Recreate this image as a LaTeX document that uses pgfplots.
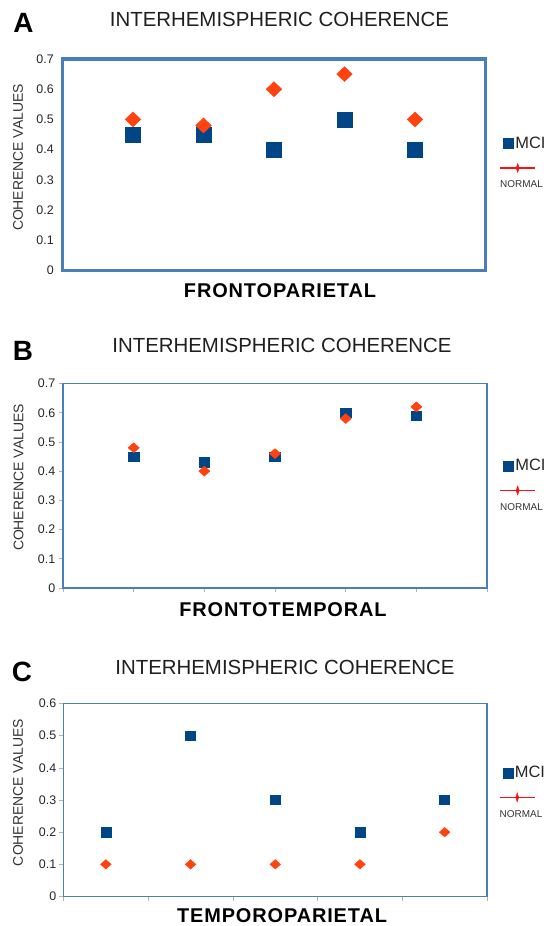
\documentclass[border=0pt]{standalone}
\usepackage{fontspec}
\setmainfont{Liberation Sans}
\usepackage{pgfplots}
\pgfplotsset{compat=1.18}
\definecolor{mciblue}{HTML}{004586}
\definecolor{normorange}{HTML}{FF420E}
\definecolor{boxblue}{HTML}{4A7EBB}
\definecolor{legred}{HTML}{FF1010}

\pgfplotsset{
  panel/.style={
    scale only axis,
    anchor=south west,
    clip=false,
    axis line style={boxblue},
    ymin=0,
    /pgf/number format/assume math mode=true,
    /pgf/number format/fixed,
    /pgf/number format/precision=1,
    yticklabel style={font=\fontsize{12.5}{14}\selectfont, text=black!85, inner sep=0pt, anchor=east},
    xticklabels={},
    xtick pos=bottom, ytick pos=left,
    tick style={gray!60, line width=0.6pt},
    tick align=outside,
    major tick length=4bp,
    legend style={draw=none, fill=none, inner sep=0pt, outer sep=0pt,
      font=\fontsize{16.5}{18}\selectfont, text=black!85,
      at={(axis description cs:1,1)}, anchor=north west,
      row sep=13bp, column sep=2bp, nodes={inner sep=0pt}},
    legend cell align=left,
  },
  mcikey/.style={legend image code/.code={
      \fill[mciblue] (0bp,-5bp) rectangle (10bp,5bp);}},
  normkey/.style={legend image code/.code={
      \path[draw=none, fill=none] (0bp,-5bp) rectangle (10bp,5bp);
      \draw[overlay, legred, line width=1.3bp] (-3bp,0bp) -- (32bp,0bp);
      \fill[overlay, legred] (14.5bp,4.5bp) -- (16bp,0bp) -- (14.5bp,-4.5bp) -- (13bp,0bp) -- cycle;
      \node[overlay, anchor=north west, inner sep=0pt, text=black!80,
        font=\fontsize{10}{12}\selectfont] at (-3bp,-13bp) {NORMAL};}},
}

\begin{document}
\begin{tikzpicture}
\useasboundingbox (0,0) rectangle (544bp,926bp);

% ---------------- Panel A ----------------
\begin{axis}[panel,
  at={(62.5bp,655.5bp)}, width=423bp, height=211.5bp,
  xmin=0, xmax=6, ymax=0.7,
  ytick={0,0.1,0.2,0.3,0.4,0.5,0.6,0.7},
  xtick=\empty, major tick length=0bp,
  axis line style={boxblue, line width=3.3bp},
  yticklabel style={xshift=-8.5bp},
  legend style={xshift=17.5bp, yshift=-78bp},
]
\addplot[only marks, mark=square*, mark size=7.5bp, mciblue, mark options={draw=none, fill=mciblue}, mcikey]
  coordinates {(1,0.45) (2,0.45) (3,0.40) (4,0.50) (5,0.40)};
\addlegendentry{MCI}
\addplot[only marks, mark=diamond*, mark size=7.5bp, normorange, mark options={draw=none, fill=normorange, xscale=1.39}, normkey]
  coordinates {(1,0.50) (2,0.48) (3,0.60) (4,0.65) (5,0.50)};
\addlegendentry{}
\end{axis}

% ---------------- Panel B ----------------
\begin{axis}[panel,
  at={(63bp,338bp)}, width=424bp, height=204.5bp,
  xmin=0, xmax=6, ymax=0.7,
  ytick={0,0.1,0.2,0.3,0.4,0.5,0.6,0.7},
  xtick={0,1,2,3,4,5,6},
  axis line style={boxblue, line width=1.7bp},
  yticklabel style={xshift=-3.5bp},
  legend style={xshift=16bp, yshift=-76bp},
]
\addplot[only marks, mark=square*, mark size=5.3bp, mciblue, mark options={draw=none, fill=mciblue, yscale=0.9}, mcikey]
  coordinates {(1,0.45) (2,0.43) (3,0.45) (4,0.60) (5,0.59)};
\addlegendentry{MCI}
\addplot[only marks, mark=diamond*, mark size=5bp, normorange, mark options={draw=none, fill=normorange, xscale=1.5}, normkey]
  coordinates {(1,0.48) (2,0.40) (3,0.46) (4,0.58) (5,0.62)};
\addlegendentry{}
\end{axis}

% ---------------- Panel C ----------------
\begin{axis}[panel,
  at={(63.5bp,29.5bp)}, width=423.5bp, height=193bp,
  xmin=0.5, xmax=5.5, ymax=0.6,
  ytick={0,0.1,0.2,0.3,0.4,0.5,0.6},
  xtick={0.5,1.5,2.5,3.5,4.5,5.5},
  axis line style={boxblue, line width=1.7bp},
  yticklabel style={xshift=-3bp},
  legend style={xshift=15.5bp, yshift=-63bp},
]
\addplot[only marks, mark=square*, mark size=5bp, mciblue, mark options={draw=none, fill=mciblue, yscale=0.93}, mcikey]
  coordinates {(1,0.2) (2,0.5) (3,0.3) (4,0.2) (5,0.3)};
\addlegendentry{MCI}
\addplot[only marks, mark=diamond*, mark size=4.75bp, normorange, mark options={draw=none, fill=normorange, xscale=1.5}, normkey]
  coordinates {(1,0.1) (2,0.1) (3,0.1) (4,0.1) (5,0.2)};
\addlegendentry{}
\end{axis}

% ---------------- Texts ----------------
\tikzset{ttl/.style={font=\fontsize{20.5}{24}\selectfont, text=black!88, inner sep=0pt},
  let/.style={font=\fontsize{28}{32}\selectfont\bfseries, inner sep=0pt},
  xl/.style={font=\fontsize{20}{24}\selectfont\bfseries\addfontfeatures{LetterSpace=4.5}, inner sep=0pt},
  yl/.style={font=\fontsize{14}{16}\selectfont, text=black!80, inner sep=0pt, rotate=90}}
\node[ttl] at (279.5bp,906.5bp) {INTERHEMISPHERIC COHERENCE};
\node[ttl] at (282bp,580.5bp) {INTERHEMISPHERIC COHERENCE};
\node[ttl] at (285bp,258.5bp) {INTERHEMISPHERIC COHERENCE};
\node[let] at (23.5bp,903.5bp) {A};
\node[let] at (23bp,575.3bp) {B};
\node[let] at (22bp,254.3bp) {C};
\node[xl] at (280bp,635.5bp) {FRONTOPARIETAL};
\node[xl] at (283bp,316bp) {FRONTOTEMPORAL};
\node[xl] at (282bp,10.5bp) {TEMPOROPARIETAL};
\node[yl] at (18bp,768.5bp) {COHERENCE VALUES};
\node[yl] at (18.5bp,448.5bp) {COHERENCE VALUES};
\node[yl] at (18bp,133.5bp) {COHERENCE VALUES};
\end{tikzpicture}
\end{document}
